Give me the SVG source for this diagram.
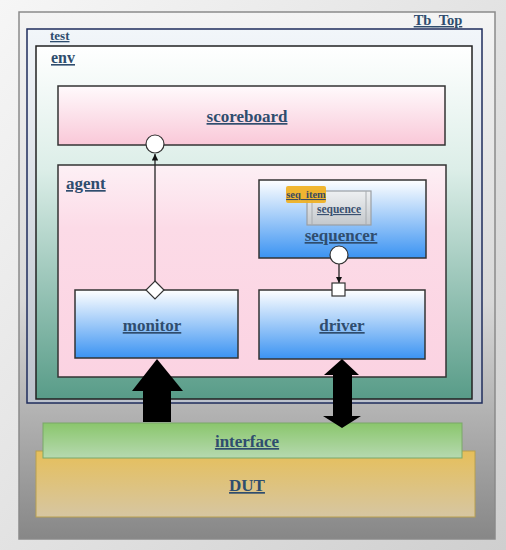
<svg xmlns="http://www.w3.org/2000/svg" width="506" height="550" viewBox="0 0 506 550">
<defs>
<linearGradient id="gBg" x1="0" y1="0" x2="1" y2="1"><stop offset="0" stop-color="#f6f6f6"/><stop offset="1" stop-color="#cfcfcf"/></linearGradient>
<linearGradient id="gTop" x1="0" y1="0" x2="0" y2="1"><stop offset="0" stop-color="#f4f4f4"/><stop offset="0.55" stop-color="#d8d8d8"/><stop offset="1" stop-color="#878787"/></linearGradient>
<linearGradient id="gTest" x1="0" y1="0" x2="0" y2="1"><stop offset="0" stop-color="#f2f6fa"/><stop offset="1" stop-color="#bcc2cc"/></linearGradient>
<linearGradient id="gEnv" x1="0" y1="0" x2="0" y2="1"><stop offset="0" stop-color="#ffffff"/><stop offset="0.35" stop-color="#dceee8"/><stop offset="1" stop-color="#589c88"/></linearGradient>
<linearGradient id="gSb" x1="0" y1="0" x2="0" y2="1"><stop offset="0" stop-color="#fffafc"/><stop offset="1" stop-color="#f9c8d8"/></linearGradient>
<linearGradient id="gAgent" x1="0" y1="0" x2="0" y2="1"><stop offset="0" stop-color="#fdf0f5"/><stop offset="0.3" stop-color="#fcdbe7"/><stop offset="1" stop-color="#fbd3e2"/></linearGradient>
<linearGradient id="gBlue" x1="0" y1="0" x2="0" y2="1"><stop offset="0" stop-color="#ffffff"/><stop offset="1" stop-color="#3b93f2"/></linearGradient>
<linearGradient id="gIf" x1="0" y1="0" x2="0" y2="1"><stop offset="0" stop-color="#8ac66c"/><stop offset="1" stop-color="#b6d9b0"/></linearGradient>
<linearGradient id="gDut" x1="0" y1="0" x2="0" y2="1"><stop offset="0" stop-color="#e6bf5a"/><stop offset="1" stop-color="#d6c6a2"/></linearGradient>
<linearGradient id="gSeq" x1="0" y1="0" x2="0" y2="1"><stop offset="0" stop-color="#eef0f2"/><stop offset="1" stop-color="#c4c8cc"/></linearGradient>
<marker id="arr" viewBox="0 0 10 10" refX="10" refY="5" markerWidth="5" markerHeight="5" orient="auto"><path d="M0,0 L10,5 L0,10 z" fill="#111"/></marker>
</defs>
<style>
.lbl{font-family:"Liberation Serif","DejaVu Serif",serif;font-weight:bold;fill:#2f4d6e;text-decoration:underline}
.big{font-size:17px}
.box{stroke:#333;stroke-width:1.5}
</style>
<rect x="0" y="0" width="506" height="550" fill="url(#gBg)"/>
<g id="tb_top">
<rect x="19" y="12" width="476" height="527" fill="url(#gTop)" stroke="#8a8a8a" stroke-width="1.5"/>
<text class="lbl" x="438" y="25" font-size="14.5" text-anchor="middle">Tb_Top</text>
</g>
<g id="test">
<rect x="27" y="29" width="455" height="374" fill="url(#gTest)" stroke="#1f2d5c" stroke-width="1.5"/>
<text class="lbl" x="50" y="40" font-size="13">test</text>
</g>
<g id="env">
<rect x="36" y="46" width="436" height="353" fill="url(#gEnv)" stroke="#222" stroke-width="1.5"/>
<text class="lbl" x="51" y="63" font-size="16">env</text>
</g>
<g id="scoreboard">
<rect class="box" x="58" y="86" width="387" height="59" fill="url(#gSb)"/>
<text class="lbl big" x="247" y="122" text-anchor="middle">scoreboard</text>
</g>
<g id="agent">
<rect class="box" x="58" y="165" width="388" height="212" fill="url(#gAgent)"/>
<text class="lbl" x="66" y="189" font-size="17">agent</text>
</g>
<g id="sequencer">
<rect class="box" x="259" y="180" width="167" height="78" fill="url(#gBlue)"/>
<text class="lbl big" x="341" y="241" text-anchor="middle">sequencer</text>
</g>
<g id="sequence">
<rect x="307" y="191" width="64" height="34" fill="url(#gSeq)" stroke="#9a9ea4" stroke-width="1.2"/>
<line x1="312" y1="191" x2="312" y2="225" stroke="#a8acb0" stroke-width="1"/>
<line x1="366" y1="191" x2="366" y2="225" stroke="#a8acb0" stroke-width="1"/>
<text class="lbl" x="339" y="213" font-size="11.5" text-anchor="middle" style="fill:#3a5070">sequence</text>
</g>
<g id="seq_item">
<rect x="286" y="186" width="40" height="17" rx="2" fill="#f0b020" opacity="0.92"/>
<text class="lbl" x="306" y="198" font-size="10.5" text-anchor="middle" style="fill:#3a4a60">seq_item</text>
</g>
<g id="monitor">
<rect class="box" x="75" y="290" width="163" height="68" fill="url(#gBlue)"/>
<text class="lbl big" x="152" y="331" text-anchor="middle">monitor</text>
</g>
<g id="driver">
<rect class="box" x="259" y="290" width="166" height="69" fill="url(#gBlue)"/>
<text class="lbl big" x="342" y="331" text-anchor="middle">driver</text>
</g>
<g id="dut">
<rect x="36" y="451" width="439" height="66" fill="url(#gDut)" stroke="#b8a050" stroke-width="1"/>
<text class="lbl big" x="247" y="491" text-anchor="middle">DUT</text>
</g>
<g id="interface">
<rect x="43" y="423" width="419" height="35" fill="url(#gIf)" stroke="#7aa868" stroke-width="1"/>
<text class="lbl big" x="247" y="447" text-anchor="middle">interface</text>
</g>
<g id="connectors">
<line x1="155" y1="285" x2="155" y2="154" stroke="#222" stroke-width="1.3" marker-end="url(#arr)"/>
<circle cx="155" cy="144" r="9" fill="#fff" stroke="#333" stroke-width="1.2"/>
<path d="M155,281 L164,290 L155,299 L146,290 z" fill="#fff" stroke="#333" stroke-width="1.2"/>
<line x1="339" y1="264" x2="339" y2="283" stroke="#222" stroke-width="1.3" marker-end="url(#arr)"/>
<circle cx="339" cy="255" r="9" fill="#fff" stroke="#333" stroke-width="1.2"/>
<rect x="332" y="283" width="13" height="13" fill="#fff" stroke="#333" stroke-width="1.2"/>
<path d="M157,359 L183,391 L171,391 L171,422 L143,422 L143,391 L132,391 z" fill="#000"/>
<path d="M342,359 L359,375 L352,375 L352,416 L361,416 L342,428 L323,416 L333,416 L333,375 L324,375 z" fill="#000"/>
</g>
</svg>
